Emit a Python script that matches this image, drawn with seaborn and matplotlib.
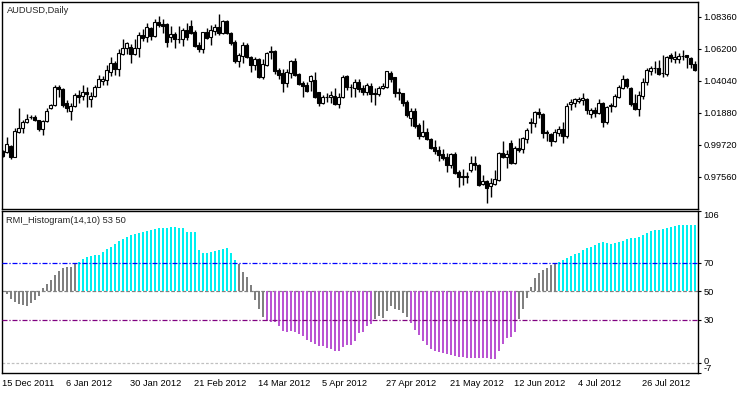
import numpy as np
import matplotlib
matplotlib.use("Agg")
import matplotlib.pyplot as plt
import matplotlib.transforms as mtransforms
import seaborn as sns

# AUDUSD daily candles, 15 Dec 2011 .. mid Aug 2012
opens = [
    0.9932, 0.9925, 0.9965, 0.9891, 1.0060, 1.0087, 1.0127, 1.0161, 1.0161, 1.0141,
    1.0080, 1.0134, 1.0222, 1.0242, 1.0364, 1.0350, 1.0256, 1.0202, 1.0235, 1.0310,
    1.0303, 1.0330, 1.0283, 1.0303, 1.0364, 1.0404, 1.0411, 1.0465, 1.0526, 1.0485,
    1.0586, 1.0627, 1.0634, 1.0586, 1.0627, 1.0715, 1.0701, 1.0762, 1.0708, 1.0802,
    1.0789, 1.0789, 1.0701, 1.0721, 1.0688, 1.0688, 1.0748, 1.0775, 1.0735, 1.0647,
    1.0620, 1.0735, 1.0701, 1.0742, 1.0769, 1.0728, 1.0809, 1.0728, 1.0667, 1.0539,
    1.0573, 1.0647, 1.0566, 1.0512, 1.0553, 1.0431, 1.0512, 1.0607, 1.0607, 1.0478,
    1.0458, 1.0391, 1.0458, 1.0539, 1.0451, 1.0391, 1.0377, 1.0404, 1.0411, 1.0330,
    1.0256, 1.0296, 1.0296, 1.0303, 1.0249, 1.0296, 1.0438, 1.0364, 1.0357, 1.0397,
    1.0357, 1.0330, 1.0370, 1.0323, 1.0316, 1.0357, 1.0364, 1.0458, 1.0431, 1.0330,
    1.0323, 1.0262, 1.0154, 1.0202, 1.0107, 1.0033, 1.0060, 1.0013, 0.9959, 0.9938,
    0.9911, 0.9891, 0.9837, 0.9911, 0.9790, 0.9763, 0.9756, 0.9803, 0.9851, 0.9837,
    0.9709, 0.9729, 0.9695, 0.9709, 0.9736, 0.9918, 0.9891, 0.9986, 0.9851, 0.9952,
    0.9945, 1.0013, 1.0121, 1.0121, 1.0195, 1.0181, 1.0060, 1.0046, 0.9999, 1.0053,
    1.0080, 1.0033, 1.0249, 1.0256, 1.0269, 1.0276, 1.0283, 1.0181, 1.0208, 1.0188,
    1.0256, 1.0127, 1.0242, 1.0235, 1.0296, 1.0357, 1.0418, 1.0357, 1.0256, 1.0215,
    1.0303, 1.0397, 1.0472, 1.0492, 1.0492, 1.0458, 1.0451, 1.0580, 1.0553, 1.0553,
    1.0573, 1.0580, 1.0559, 1.0519,
]
highs = [
    0.9938, 1.0026, 0.9972, 1.0087, 1.0222, 1.0141, 1.0181, 1.0175, 1.0175, 1.0141,
    1.0141, 1.0222, 1.0249, 1.0377, 1.0377, 1.0357, 1.0276, 1.0256, 1.0323, 1.0343,
    1.0377, 1.0364, 1.0330, 1.0377, 1.0445, 1.0438, 1.0512, 1.0566, 1.0539, 1.0620,
    1.0688, 1.0667, 1.0654, 1.0688, 1.0735, 1.0755, 1.0796, 1.0769, 1.0823, 1.0843,
    1.0823, 1.0796, 1.0775, 1.0735, 1.0775, 1.0762, 1.0796, 1.0816, 1.0748, 1.0667,
    1.0735, 1.0762, 1.0782, 1.0789, 1.0856, 1.0816, 1.0816, 1.0735, 1.0681, 1.0593,
    1.0667, 1.0661, 1.0573, 1.0566, 1.0559, 1.0553, 1.0600, 1.0640, 1.0613, 1.0492,
    1.0485, 1.0485, 1.0546, 1.0559, 1.0458, 1.0404, 1.0397, 1.0445, 1.0465, 1.0330,
    1.0310, 1.0323, 1.0337, 1.0357, 1.0323, 1.0445, 1.0445, 1.0384, 1.0418, 1.0418,
    1.0377, 1.0391, 1.0391, 1.0357, 1.0370, 1.0391, 1.0472, 1.0472, 1.0433, 1.0357,
    1.0325, 1.0276, 1.0222, 1.0222, 1.0121, 1.0141, 1.0087, 1.0019, 1.0006, 0.9965,
    0.9945, 0.9918, 0.9918, 0.9925, 0.9803, 0.9810, 0.9790, 0.9898, 0.9898, 0.9844,
    0.9770, 0.9736, 0.9749, 0.9803, 0.9925, 0.9999, 0.9938, 1.0006, 0.9965, 1.0019,
    1.0026, 1.0087, 1.0154, 1.0202, 1.0222, 1.0188, 1.0073, 1.0053, 1.0080, 1.0100,
    1.0127, 1.0256, 1.0283, 1.0289, 1.0296, 1.0323, 1.0289, 1.0222, 1.0229, 1.0283,
    1.0262, 1.0235, 1.0256, 1.0316, 1.0377, 1.0445, 1.0424, 1.0364, 1.0316, 1.0337,
    1.0424, 1.0492, 1.0505, 1.0539, 1.0546, 1.0580, 1.0573, 1.0593, 1.0607, 1.0593,
    1.0613, 1.0580, 1.0566, 1.0539,
]
lows = [
    0.9891, 0.9918, 0.9878, 0.9891, 1.0053, 1.0053, 1.0121, 1.0148, 1.0134, 1.0067,
    1.0040, 1.0127, 1.0215, 1.0235, 1.0296, 1.0229, 1.0195, 1.0141, 1.0229, 1.0256,
    1.0276, 1.0229, 1.0229, 1.0296, 1.0364, 1.0377, 1.0377, 1.0438, 1.0445, 1.0438,
    1.0580, 1.0586, 1.0526, 1.0580, 1.0566, 1.0674, 1.0667, 1.0681, 1.0701, 1.0769,
    1.0728, 1.0634, 1.0667, 1.0627, 1.0661, 1.0640, 1.0681, 1.0721, 1.0634, 1.0600,
    1.0593, 1.0688, 1.0647, 1.0715, 1.0715, 1.0721, 1.0721, 1.0647, 1.0526, 1.0499,
    1.0526, 1.0560, 1.0465, 1.0478, 1.0424, 1.0418, 1.0505, 1.0553, 1.0451, 1.0418,
    1.0330, 1.0364, 1.0424, 1.0438, 1.0377, 1.0296, 1.0330, 1.0337, 1.0290, 1.0235,
    1.0249, 1.0262, 1.0256, 1.0242, 1.0222, 1.0289, 1.0343, 1.0296, 1.0296, 1.0330,
    1.0310, 1.0310, 1.0262, 1.0242, 1.0303, 1.0350, 1.0357, 1.0397, 1.0296, 1.0276,
    1.0235, 1.0161, 1.0100, 1.0087, 1.0013, 1.0026, 1.0006, 0.9948, 0.9911, 0.9864,
    0.9871, 0.9790, 0.9817, 0.9778, 0.9689, 0.9702, 0.9716, 0.9790, 0.9803, 0.9695,
    0.9702, 0.9581, 0.9621, 0.9702, 0.9729, 0.9884, 0.9817, 0.9844, 0.9844, 0.9925,
    0.9918, 0.9986, 1.0053, 1.0094, 1.0154, 1.0019, 0.9999, 0.9965, 0.9992, 1.0033,
    0.9986, 1.0019, 1.0208, 1.0229, 1.0256, 1.0242, 1.0181, 1.0154, 1.0161, 1.0181,
    1.0094, 1.0114, 1.0195, 1.0229, 1.0289, 1.0350, 1.0357, 1.0235, 1.0208, 1.0168,
    1.0283, 1.0377, 1.0445, 1.0458, 1.0445, 1.0431, 1.0438, 1.0532, 1.0526, 1.0526,
    1.0546, 1.0492, 1.0492, 1.0472,
]
closes = [
    0.9898, 0.9979, 0.9891, 1.0067, 1.0087, 1.0127, 1.0148, 1.0161, 1.0141, 1.0080,
    1.0134, 1.0202, 1.0242, 1.0364, 1.0350, 1.0242, 1.0222, 1.0235, 1.0310, 1.0296,
    1.0330, 1.0316, 1.0303, 1.0364, 1.0418, 1.0418, 1.0478, 1.0526, 1.0485, 1.0593,
    1.0627, 1.0661, 1.0586, 1.0627, 1.0715, 1.0694, 1.0769, 1.0708, 1.0802, 1.0782,
    1.0775, 1.0667, 1.0721, 1.0688, 1.0690, 1.0748, 1.0701, 1.0728, 1.0640, 1.0620,
    1.0735, 1.0694, 1.0748, 1.0769, 1.0728, 1.0809, 1.0728, 1.0661, 1.0539, 1.0580,
    1.0647, 1.0566, 1.0512, 1.0553, 1.0431, 1.0519, 1.0593, 1.0600, 1.0472, 1.0445,
    1.0391, 1.0465, 1.0539, 1.0445, 1.0384, 1.0370, 1.0337, 1.0438, 1.0296, 1.0256,
    1.0296, 1.0298, 1.0310, 1.0249, 1.0296, 1.0431, 1.0364, 1.0361, 1.0397, 1.0350,
    1.0330, 1.0377, 1.0316, 1.0316, 1.0357, 1.0370, 1.0470, 1.0418, 1.0323, 1.0323,
    1.0256, 1.0175, 1.0202, 1.0100, 1.0033, 1.0060, 1.0013, 0.9952, 0.9932, 0.9905,
    0.9884, 0.9837, 0.9911, 0.9783, 0.9756, 0.9756, 0.9763, 0.9851, 0.9837, 0.9702,
    0.9729, 0.9682, 0.9716, 0.9743, 0.9918, 0.9891, 0.9911, 0.9851, 0.9952, 0.9938,
    1.0019, 1.0073, 1.0127, 1.0195, 1.0181, 1.0053, 1.0053, 0.9999, 1.0060, 1.0080,
    1.0033, 1.0235, 1.0262, 1.0283, 1.0283, 1.0289, 1.0208, 1.0208, 1.0188, 1.0256,
    1.0127, 1.0229, 1.0235, 1.0303, 1.0364, 1.0418, 1.0370, 1.0249, 1.0215, 1.0310,
    1.0397, 1.0478, 1.0492, 1.0494, 1.0451, 1.0460, 1.0566, 1.0559, 1.0566, 1.0573,
    1.0575, 1.0566, 1.0519, 1.0478,
]

# RMI_Histogram(14,10) values, one per bar
rmi = [
    49.5, 48.0, 44.7, 42.8, 41.2, 40.5, 40.0, 42.1, 44.0, 47.0,
    52.6, 55.1, 57.9, 61.4, 64.2, 66.0, 66.7, 67.2, 68.8, 70.7,
    72.6, 74.2, 74.9, 75.3, 75.3, 77.2, 79.3, 81.2, 82.8, 85.1,
    86.5, 87.9, 89.3, 90.0, 90.9, 91.6, 92.3, 92.8, 93.5, 93.9,
    93.9, 93.9, 94.6, 94.9, 93.9, 93.9, 91.6, 91.6, 91.6, 79.1,
    77.0, 76.7, 77.2, 78.1, 78.8, 79.5, 80.0, 76.5, 71.9, 68.8,
    63.7, 60.2, 54.4, 44.0, 37.7, 32.3, 29.3, 28.8, 28.4, 26.1,
    22.3, 21.4, 22.3, 21.4, 20.2, 19.1, 16.1, 14.4, 13.0, 12.1,
    12.1, 10.7, 9.8, 8.6, 8.6, 11.4, 12.6, 12.6, 15.4, 20.7,
    21.9, 26.1, 27.0, 30.5, 33.0, 31.6, 36.3, 40.0, 37.7, 37.0,
    34.7, 32.0, 27.7, 23.0, 19.5, 15.4, 12.6, 9.8, 8.6, 7.9,
    6.8, 6.1, 5.6, 5.1, 4.4, 4.4, 3.7, 3.7, 3.7, 3.7,
    3.7, 3.3, 2.8, 2.8, 8.4, 13.0, 17.7, 18.4, 21.9, 31.0,
    37.4, 45.6, 53.3, 59.5, 63.0, 64.9, 66.5, 68.4, 69.3, 70.7,
    71.9, 73.0, 74.6, 75.8, 76.5, 78.8, 80.0, 81.2, 82.3, 83.5,
    84.2, 83.5, 83.0, 83.5, 84.2, 85.1, 86.5, 87.0, 87.0, 87.7,
    89.3, 90.5, 92.1, 92.8, 92.8, 93.5, 93.9, 94.6, 95.6, 96.3,
    96.3, 96.3, 96.3, 96.3,
]

price_ticks = [1.08360, 1.06200, 1.04040, 1.01880, 0.99720, 0.97560]
rmi_ticks = [106, 70, 50, 30, 0, -7]
date_idx = [0, 16, 32, 48, 64, 80, 96, 112, 128, 144, 160]
date_labels = ["15 Dec 2011", "6 Jan 2012", "30 Jan 2012", "21 Feb 2012",
               "14 Mar 2012", "5 Apr 2012", "27 Apr 2012", "21 May 2012",
               "12 Jun 2012", "4 Jul 2012", "26 Jul 2012"]

sns.set_style("white")
plt.rcParams['font.family'] = ['Liberation Sans', 'DejaVu Sans']
FS = 6.7

W, H = 750, 394
def box(l, t, r, b):
    return [l / W, 1 - b / H, (r - l) / W, (b - t) / H]

fig = plt.figure(figsize=(7.5, 3.94), dpi=100)
ax1 = fig.add_axes(box(2.3, 2, 697.7, 209))
ax2 = fig.add_axes(box(2.3, 211, 697.7, 373))

o, h, l, c = (np.array(a) for a in (opens, highs, lows, closes))
idx = np.arange(len(c))
xlim = (-0.05, 173.8)

# candles
ax1.vlines(idx, l, h, color="black", lw=1, zorder=2)
body_col = np.where(c >= o, "white", "black")
ax1.bar(idx, np.abs(c - o), bottom=np.minimum(o, c), width=0.72,
        color=body_col, edgecolor="black", linewidth=0.8, zorder=3)
ax1.set_xlim(*xlim)
ax1.set_ylim(0.9540, 1.0937)
ax1.set_xticks([])
ax1.yaxis.tick_right()
ax1.set_yticks(price_ticks)
ax1.set_yticklabels([f"{t:.5f}" for t in price_ticks])
ax1.tick_params(axis="y", direction="out", length=2.5, width=0.8, pad=1.5,
                labelsize=FS, colors="black")
ax1.text(6.5 / W, 1 - 10.7 / H, "AUDUSD,Daily", transform=fig.transFigure,
         fontsize=FS, va="center", ha="left")

# histogram
v = np.array(rmi)
cols = np.where(v > 70, "#00F0F0", np.where(v < 30, "#BA55D3", "#808080"))
ax2.axhline(50, color="#808080", lw=0.9, ls=(0, (3, 1.5)), zorder=1)
ax2.bar(idx, v - 50, bottom=50, width=0.5, color=cols, linewidth=0, zorder=2)
ax2.axhline(70, color="#0000FF", lw=0.9, ls=(0, (4, 1.5, 1, 1.5)), zorder=3)
ax2.axhline(30, color="#800080", lw=0.9, ls=(0, (4, 1.5, 1, 1.5)), zorder=3)
ax2.axhline(0, color="#C0C0C0", lw=0.9, ls=(0, (2.2, 1.5)), zorder=1)
ax2.set_xlim(*xlim)
ax2.set_ylim(-7, 106)
ax2.yaxis.tick_right()
ax2.set_yticks(rmi_ticks)
ax2.set_yticklabels([str(t) for t in rmi_ticks])
ax2.tick_params(axis="y", direction="out", length=2.5, width=0.8, pad=1.5,
                labelsize=FS, colors="black")
for lab in ax2.get_yticklabels():
    if lab.get_text() == "106":
        lab.set_va("top")
    elif lab.get_text() == "-7":
        lab.set_va("bottom")
    elif lab.get_text() == "0":
        lab.set_transform(lab.get_transform() +
                          mtransforms.ScaledTranslation(0, 2 / 100, fig.dpi_scale_trans))
ax2.set_xticks(date_idx)
ax2.set_xticklabels(date_labels, ha="left")
ax2.tick_params(axis="x", direction="out", length=2.5, width=0.8, pad=1.5,
                labelsize=FS, colors="black")
ax2.text(6 / W, 1 - 220.7 / H, "RMI_Histogram(14,10) 53 50",
         transform=fig.transFigure, fontsize=FS, va="center", ha="left")

for ax in (ax1, ax2):
    for sp in ax.spines.values():
        sp.set_color("black")
        sp.set_linewidth(1)

fig.savefig("out.png", dpi=100)
